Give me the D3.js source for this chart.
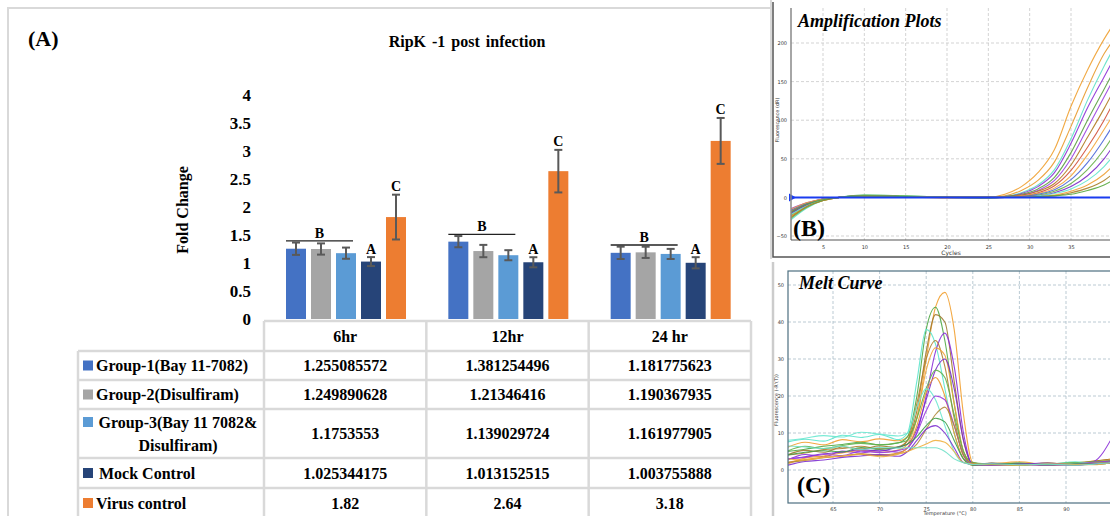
<!DOCTYPE html>
<html>
<head>
<meta charset="utf-8">
<script src="https://cdn.jsdelivr.net/npm/d3@7"></script>
<style>
body { margin: 0; background: #fff; }
svg { display: block; }
</style>
</head>
<body>
<svg id="fig" width="1110" height="516"></svg>
<script>
// ---- panel A data ----
var categories = ["6hr", "12hr", "24 hr"];
var groupLabels = [["Group-1(Bay 11-7082)"], ["Group-2(Disulfiram)"], ["Group-3(Bay 11 7082&", "Disulfiram)"], ["Mock Control"], ["Virus control"]];
var group1 = [1.255085572, 1.381254496, 1.181775623];
var group2 = [1.249890628, 1.21346416, 1.190367935];
var group3 = [1.1753553, 1.139029724, 1.161977905];
var mock = [1.025344175, 1.013152515, 1.003755888];
var virus = [1.82, 2.64, 3.18];
var group1Err = [0.11, 0.1, 0.11];
var group2Err = [0.1, 0.11, 0.1];
var group3Err = [0.1, 0.09, 0.09];
var mockErr = [0.08, 0.09, 0.1];
var virusErr = [0.4, 0.38, 0.41];
var yTicks = [0, 0.5, 1, 1.5, 2, 2.5, 3, 3.5, 4];
var letters = ["B", "A", "C"]; // groups 1-3, mock, virus

// ---- panel B data ----
var ampCycles = [1, 3, 5, 7, 10, 15, 20, 25, 27, 29, 31, 33, 35, 37, 39, 40];
var ampCurves = [
    [-25, -12, -4, 0, 2, 1, -1, 0, 4, 14, 32, 62, 118, 165, 205, 222],
    [-18, -8, -2, 0, 2, 1, 0, 0, 2, 9, 22, 46, 92, 142, 186, 202],
    [-30, -14, -4, 0, 3, 2, 0, -1, 1, 6, 16, 36, 76, 126, 170, 190],
    [-20, -9, -3, 0, 2, 1, 0, 0, 1, 5, 14, 32, 70, 116, 156, 176],
    [-22, -10, -3, 0, 2, 1, 0, 0, 1, 4, 11, 26, 58, 100, 140, 160],
    [-15, -7, -2, 0, 1, 1, 0, -1, 0, 3, 9, 22, 50, 90, 130, 150],
    [-24, -11, -3, 0, 2, 1, 0, 0, 1, 3, 8, 18, 42, 78, 115, 135],
    [-19, -9, -2, 0, 2, 1, 0, 0, 0, 2, 6, 15, 35, 65, 100, 120],
    [-26, -12, -4, 0, 2, 1, 0, 0, 0, 2, 5, 12, 28, 55, 88, 105],
    [-17, -8, -2, 0, 1, 1, 0, 0, 0, 1, 4, 10, 23, 45, 75, 92],
    [-28, -13, -4, 0, 3, 2, 0, -1, 0, 1, 3, 8, 18, 36, 62, 78],
    [-21, -10, -3, 0, 2, 1, 0, 0, 0, 1, 2, 6, 14, 28, 50, 65],
    [-23, -11, -3, 0, 2, 1, 0, 0, 0, 0, 2, 5, 11, 22, 40, 52],
    [-16, -7, -2, 0, 1, 1, 0, 0, 0, 0, 1, 3, 8, 16, 30, 40],
    [-27, -12, -4, 0, 2, 1, 0, 0, 0, 0, 1, 2, 6, 12, 22, 30],
    [-20, -9, -3, 0, 2, 1, 0, 0, 0, 0, 1, 2, 4, 9, 16, 22]
];
var ampColors = ["#f0a030", "#e89a2c", "#5fe0c8", "#8b2fd6", "#5aa040", "#9a3fe0", "#b07a20", "#d0503a",
                 "#f2a43a", "#4a66d8", "#68b048", "#7c28c8", "#60e4cc", "#eea034", "#a8802a", "#58a83e"];
var ampXTicks = [5, 10, 15, 20, 25, 30, 35];
var ampYTicks = [-50, 0, 50, 100, 150, 200];

// ---- panel C data ----
var meltTemps = [60, 62, 64, 66, 68, 70, 72, 73, 74, 75, 76, 77, 78, 79, 80, 82, 85, 88, 91, 93, 95];
var meltCurves = [
    [6, 7.5, 6.8, 8.2, 7.6, 8.4, 7.9, 9, 14, 30, 44, 48, 38, 15, 2, 1.3, 1.8, 1.4, 1.9, 2.4, 3],
    [5, 5.6, 6.4, 6.9, 7.5, 6.8, 7.3, 9, 20, 38, 44, 35, 18, 5, 2, 1.6, 1.2, 1.9, 1.5, 2.2, 2.5],
    [4, 5.3, 4.8, 6.2, 5.7, 6.5, 6.1, 8, 16, 32, 42, 40, 24, 8, 1.5, 1.9, 1.6, 1.2, 1.7, 2.4, 3],
    [7.5, 8.3, 7.8, 9.4, 8.8, 9.6, 8.2, 10, 24, 38, 34, 22, 10, 3, 1.5, 1.4, 2, 1.5, 2.2, 1.8, 2.5],
    [2.5, 4.2, 3.6, 5.1, 4.6, 5.4, 4.8, 6, 10, 20, 32, 37, 28, 10, 1.2, 1.8, 1.4, 1.7, 1.2, 2.3, 9],
    [4, 4.6, 5.5, 5.8, 6.4, 5.7, 6.3, 8, 18, 30, 35, 28, 14, 4, 1.6, 1.3, 1.8, 1.5, 1.9, 2, 2.5],
    [1.5, 3.2, 3.8, 4.6, 5.3, 4.8, 5.4, 7, 14, 27, 33, 31, 18, 5, 1.4, 1.7, 2.2, 1.4, 1.6, 2.1, 2.8],
    [3, 3.6, 4.4, 4.8, 5.5, 5.1, 6.2, 7, 11, 19, 27, 30, 22, 8, 1.7, 1.2, 1.6, 1.9, 1.4, 1.8, 2],
    [5, 6.4, 5.8, 6.6, 7.2, 6.8, 7.4, 8, 14, 22, 27, 25, 15, 5, 1.5, 1.8, 1.3, 1.6, 2, 2.2, 2.5],
    [2, 2.8, 3.5, 3.7, 4.4, 4.1, 4.6, 6, 12, 21, 25, 20, 10, 3, 1.3, 1.6, 1.4, 1.9, 1.5, 1.5, 2],
    [8, 8.6, 9.3, 8.9, 10.2, 9.7, 9.2, 10, 17, 22, 19, 12, 5, 2, 1.6, 1.3, 1.7, 1.4, 1.8, 2, 2],
    [3, 3.4, 4.2, 3.9, 5.1, 4.7, 5.3, 6, 10, 16, 20, 19, 12, 4, 1.4, 1.7, 1.5, 1.3, 1.6, 2.1, 2.5],
    [2, 2.6, 3.3, 3.8, 4.3, 3.9, 4.4, 5, 7, 11, 15, 17, 12, 4, 1.8, 1.4, 1.6, 1.7, 1.3, 1.9, 2],
    [4, 4.8, 5.2, 4.9, 6.1, 5.6, 6.2, 7, 9, 12, 14, 13, 8, 3, 1.3, 1.5, 1.8, 1.4, 1.7, 1.5, 2],
    [1.2, 2.3, 2.7, 3.4, 3.8, 4.2, 3.7, 5, 8, 11, 12, 10, 6, 2, 1.5, 1.2, 1.6, 1.8, 1.4, 1.6, 2],
    [3, 2.7, 3.4, 3.8, 4.2, 3.6, 4.3, 5, 6, 7, 8, 7.5, 5, 2, 1.6, 1.4, 1.3, 1.7, 1.5, 1.4, 2],
    [6.5, 6.2, 5.8, 6.4, 5.5, 6.1, 5.9, 6, 6, 6, 6, 5, 3, 2, 1.5, 1.7, 1.4, 1.6, 1.3, 1.6, 2]
];
var meltColors = ["#f2a030", "#4fa845", "#a07a30", "#5ce4cc", "#8a2ed8", "#b08030", "#f0a43a", "#7a2ac8",
                  "#62b04a", "#eb9a2a", "#6ae8d0", "#9a3ae0", "#b08a3a", "#3fa048", "#7e30d0", "#f0b040", "#70e0c8"];
var meltXTicks = [65, 70, 75, 80, 85, 90];
var meltYTicks = [0, 10, 20, 30, 40, 50];

var barColors = ["#4472c4", "#a5a5a5", "#5b9bd5", "#264478", "#ed7d31"];
var serif = "'Liberation Serif', 'Times New Roman', serif";

var svg = d3.select("#fig");
svg.append("rect").attr("width", 1110).attr("height", 516).attr("fill", "#fff");

// ================= panel A =================
var gA = svg.append("g");
gA.append("path").attr("d", "M8,516 V8 H775").attr("fill", "none").attr("stroke", "#d9d9d9").attr("stroke-width", 2);

gA.append("text").attr("x", 28).attr("y", 46).text("(A)")
    .style("font-family", serif).style("font-weight", "bold").style("font-size", "22px");
gA.append("text").attr("x", 467).attr("y", 47).attr("text-anchor", "middle").text("RipK -1 post infection")
    .style("font-family", serif).style("font-weight", "bold").style("font-size", "16px").style("word-spacing", "2px");

var values = [group1, group2, group3, mock, virus];
var errors = [group1Err, group2Err, group3Err, mockErr, virusErr];

var x0 = d3.scaleBand().domain(categories).range([264, 751]);
var x1 = d3.scaleBand().domain(d3.range(values.length)).range([22, 142]).paddingInner(0.2);
var y = d3.scaleLinear().domain([0, 4]).range([319, 95]);

// y axis labels only
var yAxis = gA.append("g").attr("transform", "translate(257,0)")
    .call(d3.axisLeft(y).tickValues(yTicks).tickSize(0).tickPadding(0).tickFormat(d3.format("")));
yAxis.select(".domain").remove();
yAxis.selectAll("text").attr("x", -6).attr("dy", "0.35em")
    .style("font-family", serif).style("font-weight", "bold").style("font-size", "17px").attr("fill", "#000");

gA.append("text").attr("transform", "translate(188,210) rotate(-90)").attr("text-anchor", "middle").text("Fold Change")
    .style("font-family", serif).style("font-weight", "bold").style("font-size", "16px");

// bars
var barData = [];
values.forEach(function(series, gi) {
    series.forEach(function(v, ci) {
        barData.push({g: gi, c: categories[ci], v: v, e: errors[gi][ci]});
    });
});

gA.selectAll("rect.bar").data(barData).join("rect").attr("class", "bar")
    .attr("x", function(d) { return x0(d.c) + x1(d.g); })
    .attr("y", function(d) { return y(d.v); })
    .attr("width", x1.bandwidth())
    .attr("height", function(d) { return y(0) - y(d.v); })
    .attr("fill", function(d) { return barColors[d.g]; });

// error bars
var eb = gA.selectAll("g.err").data(barData).join("g").attr("class", "err")
    .attr("transform", function(d) { return "translate(" + (x0(d.c) + x1(d.g) + x1.bandwidth() / 2) + ",0)"; });
eb.append("line").attr("y1", function(d) { return y(d.v - d.e); }).attr("y2", function(d) { return y(d.v + d.e); });
eb.append("line").attr("x1", -4).attr("x2", 4).attr("y1", function(d) { return y(d.v + d.e); }).attr("y2", function(d) { return y(d.v + d.e); });
eb.append("line").attr("x1", -4).attr("x2", 4).attr("y1", function(d) { return y(d.v - d.e); }).attr("y2", function(d) { return y(d.v - d.e); });
eb.selectAll("line").attr("stroke", "#595959").attr("stroke-width", 2);

// significance letters
var letterFont = function(s) {
    s.style("font-family", serif).style("font-weight", "bold").style("font-size", "14px").attr("text-anchor", "middle");
};
categories.forEach(function(c, ci) {
    var top = d3.max([0, 1, 2], function(gi) { return values[gi][ci] + errors[gi][ci]; }) + 0.03;
    var xa = x0(c) + x1(0), xb = x0(c) + x1(2) + x1.bandwidth() * 0.85;
    gA.append("line").attr("x1", xa).attr("x2", xb).attr("y1", y(top)).attr("y2", y(top))
        .attr("stroke", "#222").attr("stroke-width", 1.3);
    gA.append("text").attr("x", (xa + xb) / 2).attr("y", y(top) - 3).text(letters[0]).call(letterFont);
    gA.append("text").attr("x", x0(c) + x1(3) + x1.bandwidth() / 2).attr("y", y(mock[ci] + mockErr[ci]) - 3)
        .text(letters[1]).call(letterFont);
    gA.append("text").attr("x", x0(c) + x1(4) + x1.bandwidth() / 2).attr("y", y(virus[ci] + virusErr[ci]) - 4)
        .text(letters[2]).call(letterFont);
});

// data table
var rowsY = [321, 351, 380, 409, 458, 488, 522];
var tLine = function(x1_, y1_, x2_, y2_) {
    gA.append("line").attr("x1", x1_).attr("y1", y1_).attr("x2", x2_).attr("y2", y2_)
        .attr("stroke", "#d9d9d9").attr("stroke-width", 2.5);
};
tLine(264, rowsY[0], 751, rowsY[0]);
for (var r = 1; r < rowsY.length - 1; r++) tLine(78, rowsY[r], 751, rowsY[r]);
tLine(78, rowsY[1], 78, 516);
tLine(264, rowsY[0], 264, 516);
categories.forEach(function(c) { tLine(x0(c) + x0.bandwidth(), rowsY[0], x0(c) + x0.bandwidth(), 516); });

var cellFont = function(s) {
    s.style("font-family", serif).style("font-weight", "bold").style("font-size", "16px").attr("dy", "0.35em");
};
categories.forEach(function(c) {
    gA.append("text").attr("x", x0(c) + x0.bandwidth() / 2).attr("y", (rowsY[0] + rowsY[1]) / 2)
        .attr("text-anchor", "middle").text(c).call(cellFont);
});
groupLabels.forEach(function(lines, gi) {
    var cy = (rowsY[gi + 1] + rowsY[gi + 2]) / 2;
    if (gi === groupLabels.length - 1) cy = rowsY[gi + 1] + 15;
    var firstY = cy - (lines.length - 1) * 11.5;
    gA.append("rect").attr("x", 83).attr("y", firstY - 5).attr("width", 10).attr("height", 10).attr("fill", barColors[gi]);
    lines.forEach(function(t, li) {
        var tx = gA.append("text").attr("y", firstY + li * 23).text(t).call(cellFont);
        if (lines.length > 1) tx.attr("x", 178).attr("text-anchor", "middle");
        else tx.attr("x", gi === 3 ? 99 : 96);
    });
    values[gi].forEach(function(v, ci) {
        gA.append("text").attr("x", x0(categories[ci]) + x0.bandwidth() / 2).attr("y", cy)
            .attr("text-anchor", "middle").text(String(v)).call(cellFont);
    });
});

// ================= panel B: amplification plots =================
var gB = svg.append("g");
var bL = 791, bR = 1110, bT = 8, bB = 240;
gB.append("rect").attr("x", 770).attr("y", 0).attr("width", 340).attr("height", 262).attr("fill", "#fff");
gB.append("path").attr("d", "M773,2 V257 H1112").attr("fill", "none").attr("stroke", "#555").attr("stroke-width", 1.5);
gB.append("line").attr("x1", 771).attr("x2", 771).attr("y1", 0).attr("y2", 259).attr("stroke", "#ccc").attr("stroke-width", 1.5);

var xB = d3.scaleLinear().domain([5, 35]).range([823, 1071]);
var yB = d3.scaleLinear().domain([-50, 200]).range([236, 43]);

gB.append("clipPath").attr("id", "clipB").append("rect").attr("x", bL).attr("y", bT).attr("width", bR - bL).attr("height", bB - bT);

var gridB = gB.append("g").attr("stroke", "#c8c8c8").attr("stroke-dasharray", "3,2").attr("stroke-width", 0.8);
ampXTicks.concat([40]).forEach(function(t) { gridB.append("line").attr("x1", xB(t)).attr("x2", xB(t)).attr("y1", bT).attr("y2", bB); });
ampYTicks.forEach(function(t) { gridB.append("line").attr("x1", bL).attr("x2", bR).attr("y1", yB(t)).attr("y2", yB(t)); });

var lineB = d3.line().x(function(d, i) { return xB(ampCycles[i]); }).y(function(d) { return yB(d); }).curve(d3.curveMonotoneX);
gB.append("g").attr("clip-path", "url(#clipB)").selectAll("path").data(ampCurves).join("path")
    .attr("d", lineB).attr("fill", "none").attr("stroke-width", 1.1).attr("stroke-opacity", 0.9)
    .attr("stroke", function(d, i) { return ampColors[i]; });

// threshold
gB.append("line").attr("x1", bL).attr("x2", bR).attr("y1", yB(0)).attr("y2", yB(0)).attr("stroke", "#1a3cf0").attr("stroke-width", 2);
gB.append("path").attr("d", "M" + (bL - 2) + "," + (yB(0) - 4) + " l7,4 l-7,4 z").attr("fill", "#1a3cf0");

gB.append("line").attr("x1", bL).attr("x2", bL).attr("y1", bT).attr("y2", bB).attr("stroke", "#888").attr("stroke-width", 1.5);
gB.append("line").attr("x1", bL).attr("x2", bR).attr("y1", bB).attr("y2", bB).attr("stroke", "#555").attr("stroke-width", 1);

var tiny = function(s) { s.style("font-family", "'DejaVu Sans', sans-serif").style("font-size", "5px").attr("fill", "#333"); };
var axBx = gB.append("g").attr("transform", "translate(0," + bB + ")").call(d3.axisBottom(xB).tickValues(ampXTicks).tickSize(0).tickPadding(5));
axBx.select(".domain").remove();
axBx.selectAll("text").call(tiny);
var axBy = gB.append("g").attr("transform", "translate(" + bL + ",0)").call(d3.axisLeft(yB).tickValues(ampYTicks).tickSize(0).tickPadding(4));
axBy.select(".domain").remove();
axBy.selectAll("text").call(tiny);
gB.append("text").attr("x", 951).attr("y", 255).attr("text-anchor", "middle").text("Cycles").call(tiny).style("font-size", "6px");
gB.append("text").attr("transform", "translate(779,120) rotate(-90)").attr("text-anchor", "middle").text("Fluorescence (dR)").call(tiny);

gB.append("text").attr("x", 798).attr("y", 27).text("Amplification  Plots")
    .style("font-family", serif).style("font-weight", "bold").style("font-style", "italic").style("font-size", "18px");
gB.append("text").attr("x", 793).attr("y", 236).text("(B)")
    .style("font-family", serif).style("font-weight", "bold").style("font-size", "24px");

// ================= panel C: melt curve =================
var gC = svg.append("g");
var cL = 788, cR = 1112, cT = 271, cB = 503;
gC.append("line").attr("x1", 773).attr("x2", 773).attr("y1", 262).attr("y2", 516).attr("stroke", "#ccc").attr("stroke-width", 2.5);

var xC = d3.scaleLinear().domain([65, 90]).range([833, 1066]);
var yC = d3.scaleLinear().domain([0, 50]).range([470, 285]);

gC.append("clipPath").attr("id", "clipC").append("rect").attr("x", cL).attr("y", cT).attr("width", cR - cL).attr("height", cB - cT);

var gridC = gC.append("g").attr("stroke", "#a9bcc8").attr("stroke-dasharray", "3,2").attr("stroke-width", 0.8);
meltXTicks.forEach(function(t) { gridC.append("line").attr("x1", xC(t)).attr("x2", xC(t)).attr("y1", cT).attr("y2", cB); });
meltYTicks.forEach(function(t) { gridC.append("line").attr("x1", cL).attr("x2", cR).attr("y1", yC(t)).attr("y2", yC(t)); });

var lineC = d3.line().x(function(d, i) { return xC(meltTemps[i]); }).y(function(d) { return yC(d); }).curve(d3.curveMonotoneX);
gC.append("g").attr("clip-path", "url(#clipC)").selectAll("path").data(meltCurves).join("path")
    .attr("d", lineC).attr("fill", "none").attr("stroke-width", 1.1).attr("stroke-opacity", 0.9)
    .attr("stroke", function(d, i) { return meltColors[i]; });

gC.append("rect").attr("x", cL).attr("y", cT).attr("width", cR - cL).attr("height", cB - cT)
    .attr("fill", "none").attr("stroke", "#4d6f80").attr("stroke-width", 1.2);

var axCx = gC.append("g").attr("transform", "translate(0," + cB + ")").call(d3.axisBottom(xC).tickValues(meltXTicks).tickSize(0).tickPadding(4));
axCx.select(".domain").remove();
axCx.selectAll("text").call(tiny);
var axCy = gC.append("g").attr("transform", "translate(" + cL + ",0)").call(d3.axisLeft(yC).tickValues(meltYTicks).tickSize(0).tickPadding(4));
axCy.select(".domain").remove();
axCy.selectAll("text").call(tiny);
gC.append("text").attr("x", 945).attr("y", 515).attr("text-anchor", "middle").text("Temperature (°C)").call(tiny);
gC.append("text").attr("transform", "translate(778,400) rotate(-90)").attr("text-anchor", "middle").text("Fluorescence (-R'(T))").call(tiny);

gC.append("text").attr("x", 799).attr("y", 289).text("Melt  Curve")
    .style("font-family", serif).style("font-weight", "bold").style("font-style", "italic").style("font-size", "18px");
gC.append("text").attr("x", 797).attr("y", 493).text("(C)")
    .style("font-family", serif).style("font-weight", "bold").style("font-size", "24px");
</script>
</body>
</html>
